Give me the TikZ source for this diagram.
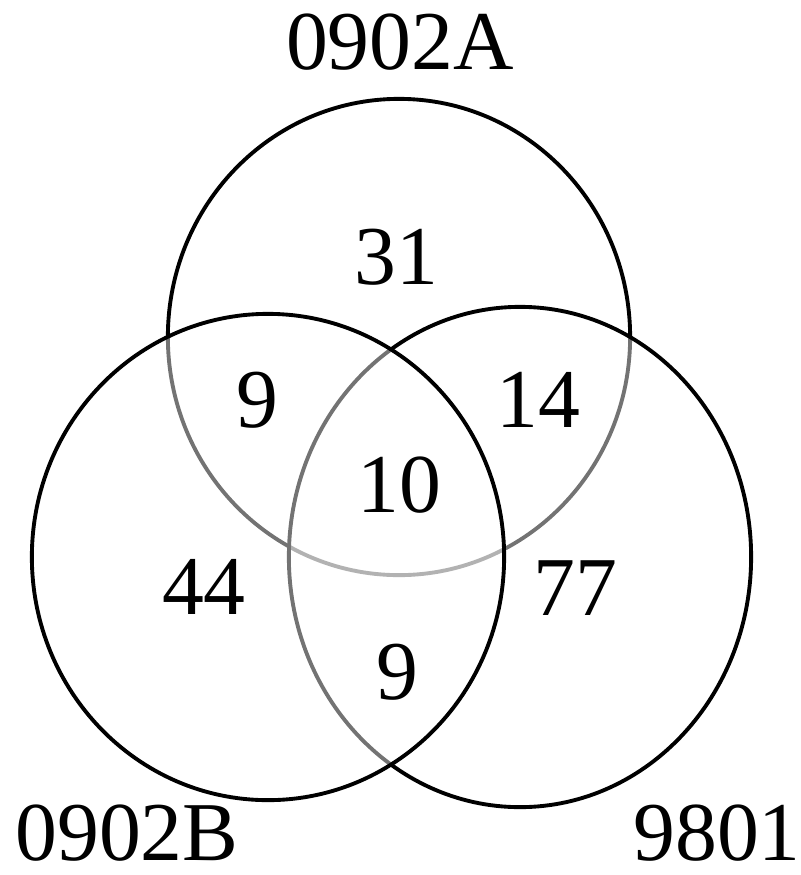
\documentclass[tikz,border=0pt]{standalone}
\usepackage{fontspec}
\setmainfont{Liberation Serif}
\usepackage{tikz}
\tikzstyle{setline} = [line width=1.1pt, draw=black]
\tikzstyle{setfill} = [setline, fill=white, fill opacity=0.45]
\tikzstyle{count} = [inner sep=0pt, font=\fontsize{23.8pt}{28pt}\selectfont]
\tikzstyle{setname} = [count]

\begin{document}
\begin{tikzpicture}[x=0.01cm, y=-0.01cm]
\useasboundingbox (0, 0) rectangle (801, 875);

%% Sets (drawn bottom to top, so the lower lines show through grey)
\draw[setline] (399, 337) ellipse [x radius=2.31cm, y radius=2.38cm];
\draw[setfill] (520, 557) ellipse [x radius=2.31cm, y radius=2.50cm];
\draw[setfill] (268, 557) ellipse [x radius=2.36cm, y radius=2.43cm];

%% Set names
\node[setname] (nameA) at (400, 42) {0902A};
\node[setname] (nameB) at (127, 833) {0902B};
\node[setname] (nameC) at (717, 833) {9801};

%% Counts
\node[count] (onlyA) at (396, 257) {31};
\node[count] (AB) at (257, 400) {9};
\node[count] (AC) at (538, 400) {14};
\node[count] (ABC) at (399, 485) {10};
\node[count] (onlyB) at (204, 587) {44};
\node[count] (onlyC) at (575, 588) {77};
\node[count] (BC) at (397, 672) {9};
\end{tikzpicture}
\end{document}
